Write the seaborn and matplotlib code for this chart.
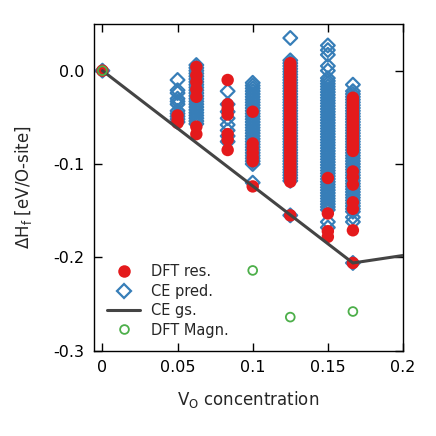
import numpy as np
import pandas as pd
import matplotlib
matplotlib.use("Agg")
import matplotlib.pyplot as plt
import seaborn as sns
from matplotlib.lines import Line2D

# --- dados ---
x_cols = [0.0, 0.05, 0.0625, 1 / 12, 0.1, 0.125, 0.15, 1 / 6]

# CE pred. (diamantes) por concentração
ce_0 = [0.0]
ce_050 = [-0.010, -0.021, -0.024, -0.030, -0.033, -0.036, -0.043, -0.046,
          -0.049, -0.052, -0.055]
ce_0625 = [0.006, 0.003, 0.000, -0.003, -0.006, -0.009, -0.012, -0.015,
           -0.018, -0.021, -0.024, -0.027, -0.030, -0.033, -0.036, -0.039,
           -0.042, -0.045, -0.048, -0.051, -0.054, -0.057]
ce_0833 = [-0.022, -0.036, -0.044, -0.051, -0.058, -0.064, -0.070, -0.076]
ce_100 = [-0.013, -0.016, -0.019, -0.022, -0.025, -0.028, -0.031, -0.034,
          -0.037, -0.040, -0.043, -0.046, -0.049, -0.052, -0.055, -0.058,
          -0.061, -0.064, -0.067, -0.070, -0.073, -0.076, -0.079, -0.082,
          -0.085, -0.088, -0.091, -0.094, -0.097, -0.100, -0.120]
ce_125 = [0.035, 0.011, 0.008, 0.005, 0.002, -0.001, -0.004, -0.007,
          -0.010, -0.013, -0.016, -0.019, -0.022, -0.025, -0.028, -0.031,
          -0.034, -0.037, -0.040, -0.043, -0.046, -0.049, -0.052, -0.055,
          -0.058, -0.061, -0.064, -0.067, -0.070, -0.073, -0.076, -0.079,
          -0.082, -0.085, -0.088, -0.091, -0.094, -0.097, -0.100, -0.103,
          -0.106, -0.109, -0.112, -0.115, -0.118, -0.155]
ce_150 = [0.027, 0.022, 0.017, 0.005, 0.000,
          -0.008, -0.011, -0.014, -0.017, -0.020, -0.023, -0.026, -0.029,
          -0.032, -0.035, -0.038, -0.041, -0.044, -0.047, -0.050, -0.053,
          -0.056, -0.059, -0.062, -0.065, -0.068, -0.071, -0.074, -0.077,
          -0.080, -0.083, -0.086, -0.089, -0.092, -0.095, -0.098, -0.101,
          -0.104, -0.107, -0.110, -0.113, -0.116, -0.119, -0.122, -0.125,
          -0.128, -0.131, -0.134, -0.137, -0.140, -0.143, -0.146, -0.149,
          -0.162, -0.168]
ce_167 = [-0.015,
          -0.022, -0.025, -0.028, -0.031, -0.034, -0.037, -0.040, -0.043,
          -0.046, -0.049, -0.052, -0.055, -0.058, -0.061, -0.064, -0.067,
          -0.070, -0.073, -0.076, -0.079, -0.082, -0.085, -0.088, -0.091,
          -0.094, -0.097, -0.100, -0.103, -0.106, -0.109, -0.112, -0.115,
          -0.118, -0.121, -0.124, -0.127, -0.130, -0.133, -0.136, -0.139,
          -0.142, -0.145, -0.148, -0.151, -0.157, -0.162, -0.206]

# DFT res. (círculos vermelhos)
dft_0 = [0.0]
dft_050 = [-0.048, -0.053, -0.056]
dft_0625 = [0.004, -0.005, -0.012, -0.020, -0.028, -0.060, -0.068]
dft_0833 = [-0.010, -0.036, -0.041, -0.047, -0.068, -0.074, -0.085]
dft_100 = [-0.044, -0.078, -0.083, -0.088, -0.093, -0.097, -0.124]
dft_125 = [0.008, 0.005, 0.002, -0.001, -0.004, -0.007, -0.010, -0.013,
           -0.016, -0.019, -0.022, -0.025, -0.028, -0.031, -0.034, -0.037,
           -0.040, -0.043, -0.046, -0.049, -0.052, -0.055, -0.058, -0.061,
           -0.064, -0.067, -0.070, -0.073, -0.076, -0.079, -0.082, -0.085,
           -0.088, -0.091, -0.094, -0.097, -0.100, -0.103, -0.106, -0.109,
           -0.112, -0.115, -0.119, -0.155]
dft_150 = [-0.115, -0.153, -0.172, -0.178]
dft_167 = [-0.029, -0.032, -0.035, -0.038, -0.041, -0.044, -0.047, -0.050,
           -0.053, -0.056, -0.059, -0.062, -0.065, -0.068, -0.071, -0.074,
           -0.077, -0.080, -0.083, -0.086, -0.108, -0.114, -0.122, -0.141,
           -0.148, -0.171, -0.206]

# CE gs. (envoltória convexa)
gs_x = [0.0, 1 / 6, 0.2]
gs_y = [0.0, -0.206, -0.198]

# DFT Magn.
mag_x = [0.0, 0.1, 0.125, 1 / 6]
mag_y = [0.0, -0.214, -0.264, -0.258]

ce_lists = [ce_0, ce_050, ce_0625, ce_0833, ce_100, ce_125, ce_150, ce_167]
dft_lists = [dft_0, dft_050, dft_0625, dft_0833, dft_100, dft_125, dft_150, dft_167]

df_ce = pd.DataFrame([(x, y) for x, ys in zip(x_cols, ce_lists) for y in ys], columns=["x", "y"])
df_dft = pd.DataFrame([(x, y) for x, ys in zip(x_cols, dft_lists) for y in ys], columns=["x", "y"])
df_gs = pd.DataFrame({"x": gs_x, "y": gs_y})
df_mag = pd.DataFrame({"x": mag_x, "y": mag_y})

red, blue, green, gray = "#e41a1c", "#377eb8", "#4daf4a", "#444444"

sns.set_style("ticks")
plt.rcParams["font.family"] = ["DejaVu Sans"]
plt.rcParams["axes.unicode_minus"] = False

fig = plt.figure(figsize=(4.36, 4.36), dpi=100)
ax = fig.add_axes([0.2156, 0.1956, 0.7087, 0.7494])

sns.scatterplot(data=df_ce, x="x", y="y", marker="D", s=49, facecolor="none",
                edgecolor=blue, linewidth=1.6, ax=ax, zorder=2)
sns.scatterplot(data=df_dft, x="x", y="y", marker="o", s=80, color=red,
                edgecolor="none", linewidth=0, ax=ax, zorder=3)
sns.lineplot(data=df_gs, x="x", y="y", color=gray, linewidth=2.2, ax=ax,
             zorder=4, estimator=None, sort=False)
sns.scatterplot(data=df_mag, x="x", y="y", marker="o", s=40, facecolor="none",
                edgecolor=green, linewidth=1.3, ax=ax, zorder=5)

ax.set_xlim(-0.0056, 0.2)
ax.set_ylim(-0.3, 0.05)
ax.set_xticks([0, 0.05, 0.1, 0.15, 0.2])
ax.set_xticklabels(["0", "0.05", "0.1", "0.15", "0.2"])
ax.set_yticks([0.0, -0.1, -0.2, -0.3])
ax.set_yticklabels(["0.0", "-0.1", "-0.2", "-0.3"])
ax.tick_params(direction="in", length=6, width=1, top=True, right=True,
               labelsize=11.5, pad=7, colors="black")
for sp in ax.spines.values():
    sp.set_color("black")
    sp.set_linewidth(1)

ax.set_xlabel(r"V$_\mathrm{O}$ concentration", fontsize=12, labelpad=10)
ax.set_ylabel(r"$\Delta$H$_\mathrm{f}$ [eV/O-site]", fontsize=12, labelpad=14)

handles = [
    Line2D([], [], ls="none", marker="o", ms=9, mfc=red, mec="none"),
    Line2D([], [], ls="none", marker="D", ms=7, mfc="none", mec=blue, mew=1.6),
    Line2D([], [], color=gray, lw=2.2),
    Line2D([], [], ls="none", marker="o", ms=6.3, mfc="none", mec=green, mew=1.3),
]
ax.legend(handles, ["DFT res.", "CE pred.", "CE gs.", "DFT Magn."],
          loc="lower left", frameon=False, fontsize=10.5,
          bbox_to_anchor=(0.0, 0.0), labelspacing=0.3,
          handlelength=2.25, handletextpad=0.75)

fig.savefig("out.png", dpi=100)
